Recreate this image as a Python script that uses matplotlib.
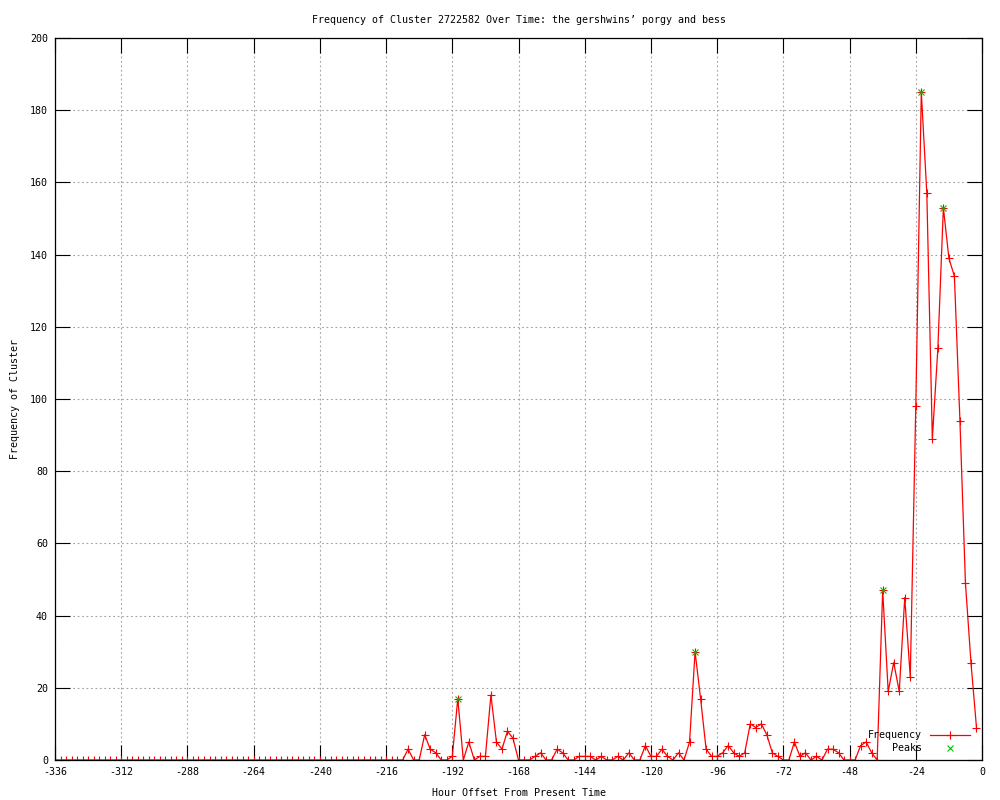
import numpy as np
from matplotlib import pyplot as plt
from matplotlib.ticker import MultipleLocator

plt.rcParams['axes.unicode_minus'] = False
plt.rcParams['font.family'] = ['DejaVu Sans Mono']

title = 'Frequency of Cluster 2722582 Over Time: the gershwins\u2019 porgy and bess'

# hour offsets, one bin every 2 hours
hours = np.arange(-336, 0, 2)
freq = [0] * 61 + [
    0, 0, 0, 3, 0, 0, 7, 3, 2, 0, 0, 1, 17, 0, 5, 0, 1, 1, 18, 5, 3, 8, 6, 0, 0, 0, 1, 2,
    0, 0, 3, 2, 0, 0, 1, 1, 1, 0, 1, 0, 0, 1, 0, 2, 0, 0, 4, 1, 1, 3, 1, 0,
    2, 0, 5, 30, 17, 3, 1, 1, 2, 4, 2, 1, 2, 10, 9, 10, 7, 2, 1, 0, 0, 5, 1, 2, 0,
    1, 0, 3, 3, 2, 0, 0, 0, 4, 5, 2, 0,
    47, 19, 27, 19, 45, 23, 98, 185, 157, 89, 114, 153, 139, 134, 94, 49, 27, 9,
]

peak_hours = [-190, -104, -36, -22, -14]
peak_freq = [17, 30, 47, 185, 153]

fig = plt.figure(figsize=(10, 8), dpi=100)
ax = fig.add_axes([0.055, 0.05, 0.927, 0.9025])

ax.plot(hours, freq, color='red', lw=0.9, marker='+', ms=6, mew=0.8, label='Frequency')
ax.plot(peak_hours, peak_freq, color='#00c000', ls='', marker='x', ms=5, mew=0.8, label='Peaks')

ax.set_xlim(-336, 0)
ax.set_ylim(0, 200)
ax.xaxis.set_major_locator(MultipleLocator(24))
ax.yaxis.set_major_locator(MultipleLocator(20))
ax.tick_params(direction='in', length=11, width=0.8, top=True, right=True,
               labelsize=7.2, pad=5)
ax.grid(True, color='#a0a0a0', ls=(0, (1.5, 2.5)), lw=0.8)
for s in ax.spines.values():
    s.set_linewidth(0.9)

ax.set_title(title, fontsize=7.2, pad=11)
ax.set_xlabel('Hour Offset From Present Time', fontsize=7.2, labelpad=8)
ax.set_ylabel('Frequency of Cluster', fontsize=7.2, labelpad=7)

ax.legend(loc='lower right', bbox_to_anchor=(0.995, 0.0), frameon=False,
          markerfirst=False, fontsize=7.2, handlelength=4, labelspacing=0.3,
          borderaxespad=0.3)

fig.savefig('out.png', dpi=100)
